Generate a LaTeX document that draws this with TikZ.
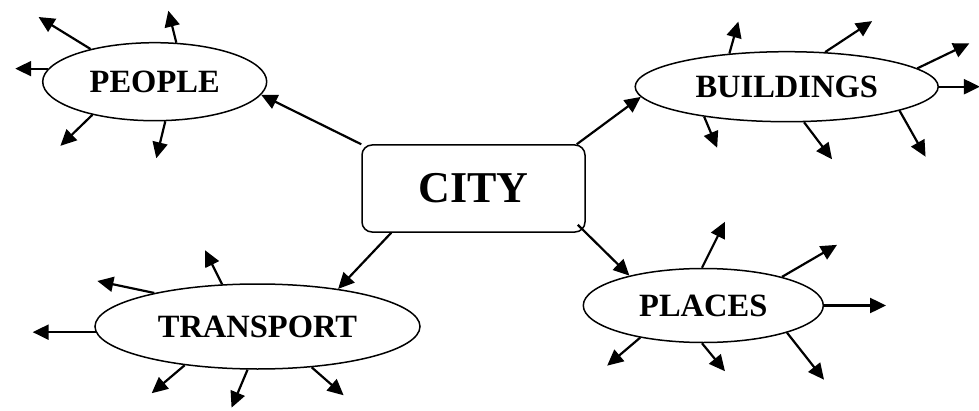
\documentclass[tikz,border=0pt]{standalone}
\usepackage{fontspec}
\setmainfont{Liberation Serif}
\usetikzlibrary{arrows.meta,shapes.geometric,positioning}

\begin{document}
\begin{tikzpicture}[>={Triangle[length=16pt,width=15pt]}, x=1pt, y=1pt, line width=2.2pt,
    topic/.style={ellipse, draw, line width=1.5pt, inner sep=0pt,
                  font=\fontsize{32.5}{38}\selectfont\bfseries},
    hub/.style={rectangle, draw, rounded corners=10pt, line width=1.5pt, inner sep=0pt,
                minimum width=223pt, minimum height=87pt,
                font=\fontsize{44}{50}\selectfont\bfseries}]

    \useasboundingbox (0,0) rectangle (979,410);

    \node[hub]                                              (city)      at (473.5,221.5) {CITY};
    \node[topic, minimum width=224pt, minimum height=78pt]  (people)    at (154.7,328.3) {PEOPLE};
    \node[topic, minimum width=303pt, minimum height=70pt]  (buildings) at (786.7,323.3) {BUILDINGS};
    \node[topic, minimum width=325pt, minimum height=85pt]  (transport) at (257.5,83.5)  {TRANSPORT};
    \node[topic, minimum width=240pt, minimum height=74pt]  (places)    at (703.3,104.5) {PLACES};

    % from the centre
    \draw[->] (city.north west)                   -- (people.-7);
    \draw[->] ([xshift=-9pt]city.north east)      -- (buildings.184);
    \draw[->] ([xshift=30pt]city.south west)      -- (transport.25);
    \draw[->] ([shift={(-8pt,8pt)}]city.south east) -- (places.158);

    % loose ends
    \foreach \a/\dx/\dy in {153/-52/32, 61/-8/32, 173/-33/0, 208/-32/-31, 285/-9/-37}
        \draw[->] (people.\a) -- ++(\dx,\dy);
    \foreach \a/\dx/\dy in {150/9/32, 42/47/31, 8/52/25, 0/41/0, 200/13/-31, 296/28/-37, 348/26/-46}
        \draw[->] (buildings.\a) -- ++(\dx,\dy);
    \foreach \a/\dx/\dy in {130/-17/34, 162/-57/12, 182/-63/0, 208/-33/-28, 257/-16/-38, 323/32/-28}
        \draw[->] (transport.\a) -- ++(\dx,\dy);
    \foreach \a/\dx/\dy in {92/23/46, 20/55/32, 0/62/0, 207/-33/-28, 268/23/-28, 342/37/-47}
        \draw[->] (places.\a) -- ++(\dx,\dy);
\end{tikzpicture}
\end{document}
